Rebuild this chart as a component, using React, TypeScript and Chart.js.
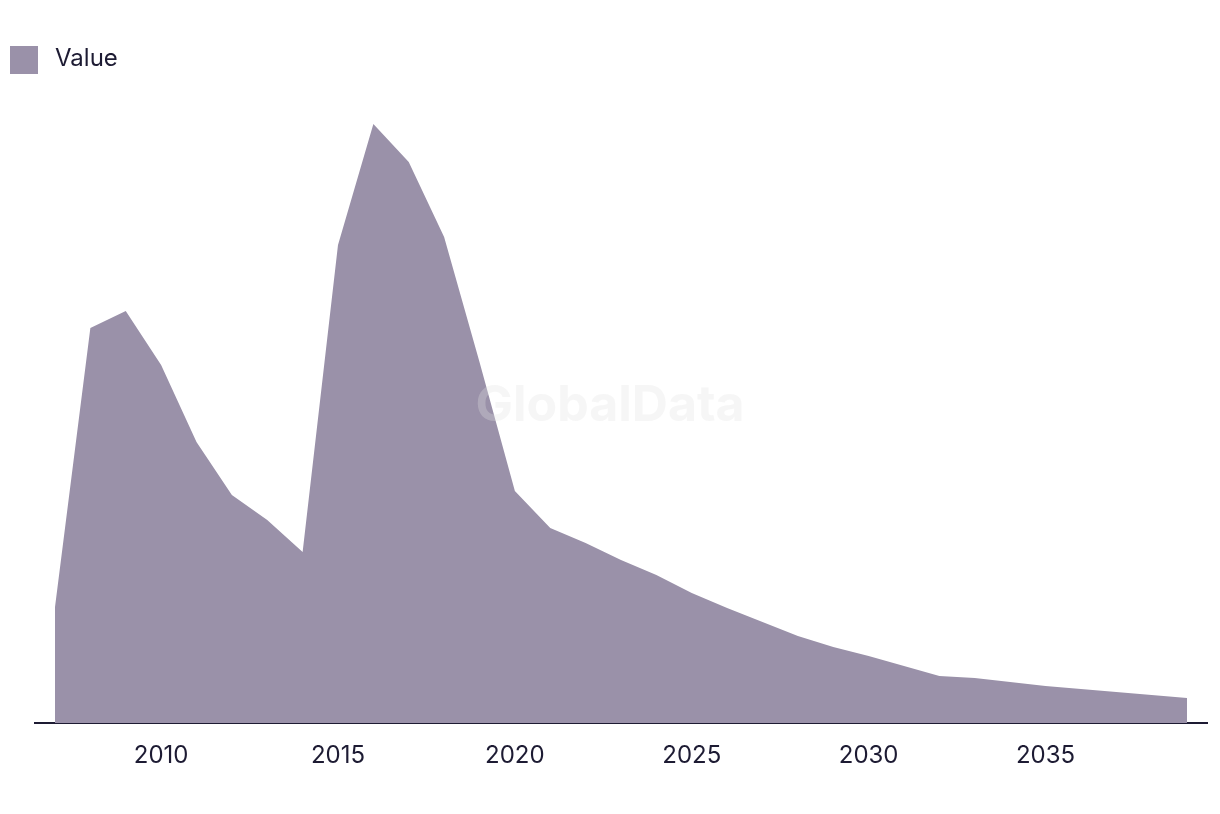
import React, { useEffect, useRef } from "react";
import { Chart, registerables } from "chart.js";

Chart.register(...registerables);

const YEARS = [
  2007, 2008, 2009, 2010, 2011, 2012, 2013, 2014, 2015, 2016, 2017,
  2018, 2019, 2020, 2021, 2022, 2023, 2024, 2025, 2026, 2027, 2028,
  2029, 2030, 2031, 2032, 2033, 2034, 2035, 2036, 2037, 2038, 2039,
];
const VALUES = [
  11.6, 39.5, 41.2, 35.8, 28.1, 22.8, 20.3, 17.1, 47.8, 59.9, 56.1,
  48.6, 36.1, 23.2, 19.5, 18.0, 16.3, 14.8, 13.0, 11.5, 10.1, 8.7,
  7.6, 6.7, 5.7, 4.7, 4.5, 4.1, 3.7, 3.4, 3.1, 2.8, 2.5,
];
const X_TICKS = [2010, 2015, 2020, 2025, 2030, 2035];
const SERIES_LABEL = "Value";
const WATERMARK = "GlobalData";

const FILL = "#9a91a9";
const TEXT = "#1d1b33";
const FONT = "Inter, 'Noto Sans', sans-serif";

const legendPlugin = {
  id: "boxLegend",
  afterDraw(chart: any) {
    const { ctx } = chart;
    const ds = chart.data.datasets[0];
    ctx.save();
    ctx.fillStyle = ds.backgroundColor;
    ctx.fillRect(10, 46, 28, 28);
    ctx.fillStyle = TEXT;
    ctx.font = `24px ${FONT}`;
    ctx.textAlign = "left";
    ctx.textBaseline = "middle";
    ctx.fillText(ds.label, 55, 59);
    ctx.restore();
  },
};

const watermarkPlugin = {
  id: "watermark",
  afterDatasetsDraw(chart: any) {
    const { ctx, chartArea } = chart;
    ctx.save();
    ctx.font = `bold 50px ${FONT}`;
    ctx.fillStyle = "rgba(225,225,225,0.3)";
    ctx.textAlign = "center";
    ctx.textBaseline = "middle";
    ctx.fillText(
      WATERMARK,
      (chartArea.left + chartArea.right) / 2 - 11,
      (chartArea.top + chartArea.bottom) / 2 + 2
    );
    ctx.restore();
  },
};

export default function App() {
  const canvasRef = useRef<HTMLCanvasElement | null>(null);

  useEffect(() => {
    if (!canvasRef.current) return;
    const chart = new Chart(canvasRef.current, {
      type: "line",
      data: {
        datasets: [
          {
            label: SERIES_LABEL,
            data: YEARS.map((y, i) => ({ x: y, y: VALUES[i] })),
            fill: "origin",
            backgroundColor: FILL,
            borderColor: FILL,
            borderWidth: 0,
            pointRadius: 0,
            tension: 0,
          },
        ],
      },
      options: {
        animation: false,
        responsive: true,
        maintainAspectRatio: false,
        layout: { padding: { left: 0, right: 13, top: 84, bottom: 0 } },
        plugins: {
          tooltip: { enabled: false },
          legend: { display: false },
        },
        scales: {
          x: {
            type: "linear",
            min: 2006.435,
            max: 2039.565,
            afterBuildTicks: (scale: any) => {
              scale.ticks = X_TICKS.map((v) => ({ value: v }));
            },
            afterFit: (scale: any) => {
              scale.height = 91;
            },
            grid: { display: false },
            border: { display: true, color: TEXT, width: 2 },
            ticks: {
              color: TEXT,
              padding: 10,
              maxRotation: 0,
              autoSkip: false,
              font: { family: FONT, size: 24 },
              callback: (v: any) => String(v),
            },
          },
          y: {
            min: 0,
            max: 63.9,
            display: true,
            grid: { display: false },
            border: { display: false },
            ticks: { display: false },
            afterFit: (scale: any) => {
              scale.width = 35;
            },
          },
        },
      },
      plugins: [watermarkPlugin, legendPlugin],
    });
    return () => chart.destroy();
  }, []);

  return (
    <div style={{ position: "absolute", left: 0, top: 0, width: 1220, height: 814, background: "#fff" }}>
      <canvas ref={canvasRef} />
    </div>
  );
}
